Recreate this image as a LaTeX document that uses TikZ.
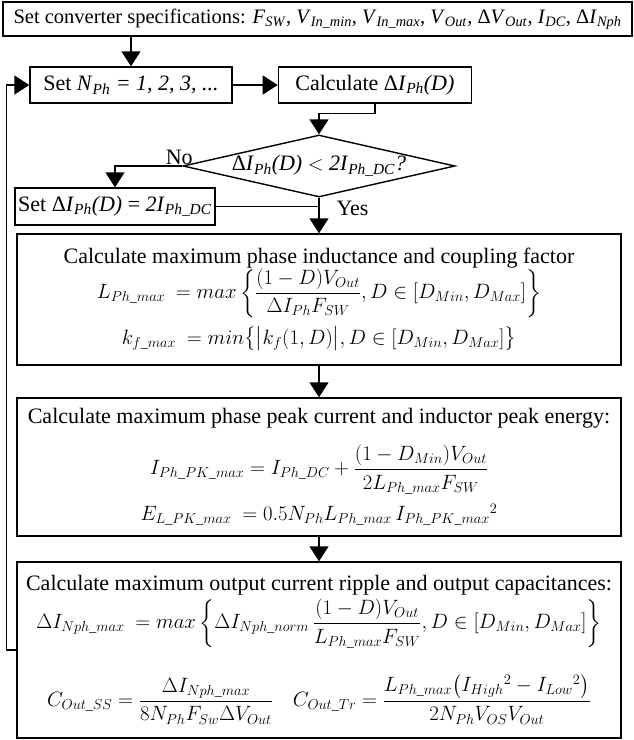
\documentclass[tikz,border=0pt]{standalone}
\usepackage{amsmath,amssymb}
\usepackage{fontspec}
\setmainfont{Liberation Serif}
\usepackage{tikz}
\usetikzlibrary{shapes,arrows.meta,positioning,calc}
\newcommand{\vsub}[2]{\textit{#1}\textsubscript{\textit{#2}}}
\newcommand{\eqfont}{\fontsize{20}{24}\selectfont}

\begin{document}
\begin{tikzpicture}[x=1pt,y=1pt,
  block/.style={rectangle,draw,line width=1.4pt,align=center,inner sep=2pt},
  bigblock/.style={block,minimum width=604pt},
  decision/.style={diamond,draw,line width=1.4pt,inner sep=0pt,aspect=4.4,minimum width=272pt,minimum height=62pt},
  arrow/.style={-{Triangle[length=15pt,width=19pt]},line width=1.4pt},
  line/.style={line width=1.4pt},
  font=\fontsize{22}{24}\selectfont
]
\useasboundingbox (0,0) rectangle (633,-740);
\node[block,minimum width=629pt,minimum height=34pt,font=\fontsize{20.5}{24}\selectfont] (spec) at (317.5,-19)
  {Set converter specifications: \vsub{F}{SW}, \vsub{V}{In\_min}, \vsub{V}{In\_max}, \vsub{V}{Out}, Δ\vsub{V}{Out}, \vsub{I}{DC}, Δ\vsub{I}{Nph}};
\node[block,minimum width=202pt,minimum height=36pt] (setN) at (131,-85) {Set \vsub{N}{Ph} \textit{= 1, 2, 3, ...}};
\node[block,minimum width=193pt,minimum height=36pt,right=45pt of setN] (calc) {Calculate Δ\vsub{I}{Ph}\textit{(D)}};
\node[decision] (dec) at (319,-166) {Δ\vsub{I}{Ph}\textit{(D) $<$ 2}\vsub{I}{Ph\_DC}\textit{?}};
\node[block,minimum width=200pt,minimum height=37pt] (setDI) at (115,-206.5) {Set Δ\vsub{I}{Ph}\textit{(D)} = \textit{2}\vsub{I}{Ph\_DC}};
\node[bigblock,minimum height=131pt] (box1) at (319,-299.5) {Calculate maximum phase inductance and coupling factor\\[0pt]
  {\eqfont$\displaystyle L_{Ph\_max}\ = max\left\{\frac{(1-D)V_{Out}}{\Delta I_{Ph}F_{SW}}, D\in[D_{Min},D_{Max}]\right\}$}\\[8pt]
  {\eqfont$k_{f\_max}\ = min\bigl\{\bigl|k_f(1,D)\bigr|, D\in[D_{Min},D_{Max}]\bigr\}$}};
\node[bigblock,minimum height=138pt] (box2) at (319,-467) {Calculate maximum phase peak current and inductor peak energy:\\[16pt]
  {\eqfont$\displaystyle I_{Ph\_PK\_max} = I_{Ph\_DC} + \frac{(1-D_{Min})V_{Out}}{2L_{Ph\_max}F_{SW}}$}\\[9pt]
  {\eqfont$E_{L\_PK\_max}\ = 0.5N_{Ph}L_{Ph\_max}\,I_{Ph\_PK\_max}{}^{2}$}};
\node[bigblock,minimum height=176pt] (box3) at (319,-650) {Calculate maximum output current ripple and output capacitances:\\[3pt]
  {\eqfont$\displaystyle \Delta I_{Nph\_max}\ = max\left\{\Delta I_{Nph\_norm}\,\frac{(1-D)V_{Out}}{L_{Ph\_max}F_{SW}}, D\in[D_{Min},D_{Max}]\right\}$}\\[25pt]
  {\eqfont$\displaystyle C_{Out\_SS} = \frac{\Delta I_{Nph\_max}}{8N_{Ph}F_{Sw}\Delta V_{Out}}\quad C_{Out\_Tr} = \frac{L_{Ph\_max}\bigl(I_{High}{}^{2}-I_{Low}{}^{2}\bigr)}{2N_{Ph}V_{OS}V_{Out}}$}\\[-6pt]\mbox{}};
\node[above=-2pt of dec.west,xshift=-3pt] (no) {No};
\node[right=14pt of dec.south,anchor=north west] (yes) {Yes};
\draw[arrow] (spec.south -| setN.north) -- (setN.north);
\draw[arrow] (setN) -- (calc);
\draw[arrow] (calc.south) -- ++(0,-10) -| (dec.north);
\draw[arrow] (dec.west) -| (setDI.north);
\draw[line] (setDI.east) -- (setDI.east -| dec.south);
\draw[arrow] (dec.south) -- (box1.north);
\draw[arrow] (box1) -- (box2);
\draw[arrow] (box2) -- (box3);
\draw[arrow] (box3.west) -- ++(-10,0) |- (setN.west);
\end{tikzpicture}
\end{document}
